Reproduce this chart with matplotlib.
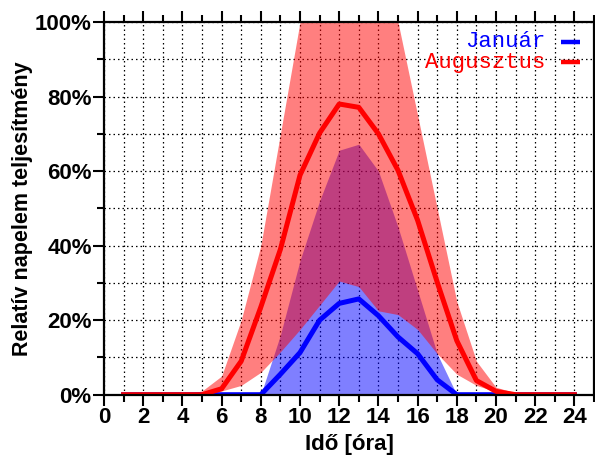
import matplotlib
matplotlib.use("Agg")
import matplotlib.pyplot as plt
from matplotlib.ticker import MultipleLocator, FuncFormatter

# -------- Data -------- #
hours = list(range(1, 25))

jan_mean = [0, 0, 0, 0, 0, 0, 0, 0, 5.5, 11.3, 20, 24.5,
            25.7, 21.2, 15.5, 11, 4, 0, 0, 0, 0, 0, 0, 0]
jan_min = [0] * 24
jan_max = [0, 0, 0, 0, 0, 0, 0, 0, 16, 36, 52, 65.6,
           67.2, 60, 45, 28, 11, 0, 0, 0, 0, 0, 0, 0]

aug_mean = [0, 0, 0, 0, 0, 1.6, 9, 23.5, 39, 58.9, 70.2, 78,
            77.1, 70, 60.2, 46.8, 30.2, 14.5, 3.8, 0.9, 0, 0, 0, 0]
aug_min = [0, 0, 0, 0, 0, 1, 2.5, 6, 11.5, 17.5, 24, 30.5,
           29, 22.5, 21.5, 17.5, 11, 5.5, 2.5, 0.8, 0.2, 0, 0, 0]
aug_max = [0, 0, 0, 0, 1, 5, 20, 40, 70, 100, 100, 100,
           100, 100, 100, 75, 50, 25, 9, 2, 0.5, 0, 0, 0]

series_labels = ["Január", "Augusztus"]
series_colors = ["blue", "red"]

plt.rcParams["font.family"] = ["Liberation Sans", "DejaVu Sans"]

fig = plt.figure(figsize=(5.95, 4.59), dpi=100)
ax = fig.add_axes([104 / 595, 64.3 / 459, 490 / 595, 372.7 / 459])

# -------- Bands and lines -------- #
ax.fill_between(hours, jan_min, jan_max, color="blue", alpha=0.5, lw=0)
ax.fill_between(hours, aug_min, aug_max, color="red", alpha=0.5, lw=0)
ax.plot(hours, jan_mean, color="blue", lw=3.6)
ax.plot(hours, aug_mean, color="red", lw=3.6)

ax.set_xlim(0, 25)
ax.set_ylim(0, 100)

ax.xaxis.set_major_locator(MultipleLocator(2))
ax.xaxis.set_minor_locator(MultipleLocator(1))
ax.yaxis.set_major_locator(MultipleLocator(20))
ax.yaxis.set_minor_locator(MultipleLocator(10))
ax.yaxis.set_major_formatter(FuncFormatter(lambda v, p: f"{v:.0f}%"))

ax.grid(which="both", color="black", linestyle=(0, (1.2, 2.4)), lw=0.9)
ax.set_axisbelow(True)

for s in ax.spines.values():
    s.set_linewidth(1.6)
    s.set_color("black")

ax.tick_params(which="major", direction="out", length=7.9, width=1.5,
               top=True, labelsize=16, pad=1)
ax.tick_params(which="minor", direction="out", length=4.8, width=1.5, top=True)
for lab in ax.get_xticklabels() + ax.get_yticklabels():
    lab.set_fontweight("bold")

ax.set_xlabel("Idő [óra]", fontsize=16, fontweight="bold", labelpad=4)
ax.set_ylabel("Relatív napelem teljesítmény", fontsize=15.5, fontweight="bold", labelpad=1)

# -------- Legend (text right-aligned, sample line after the text) -------- #
legend_y = [0.947, 0.892]
for lbl, col, ly in zip(series_labels, series_colors, legend_y):
    ax.text(0.9, ly, lbl, transform=ax.transAxes, ha="right", va="center",
            color=col, fontsize=16, family=["Liberation Mono", "DejaVu Sans Mono"])
    ax.plot([0.933, 0.971], [ly, ly], transform=ax.transAxes, color=col,
            lw=3.2, solid_capstyle="butt", clip_on=False)

fig.savefig("out.png", dpi=100)
